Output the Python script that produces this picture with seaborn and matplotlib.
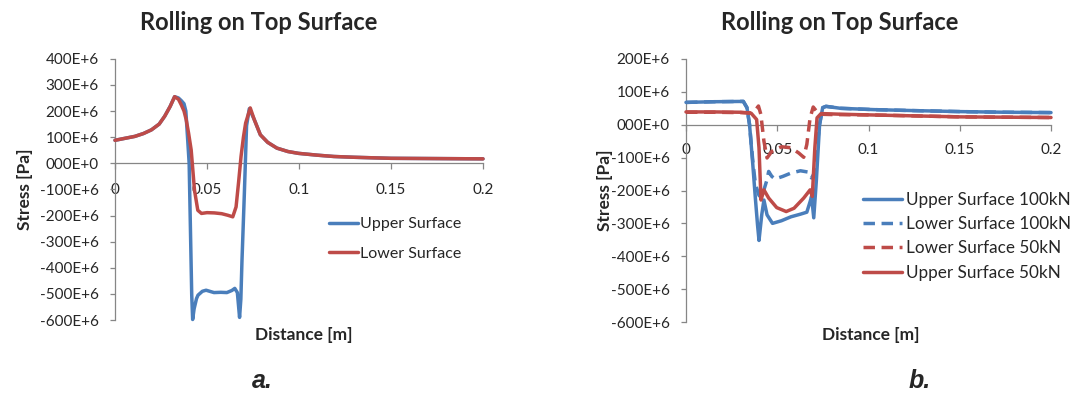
import matplotlib
matplotlib.use("Agg")
import matplotlib.pyplot as plt
from matplotlib.ticker import FuncFormatter, MultipleLocator
import seaborn as sns

# ---- Panel a: rolling on top surface, stress in units of 1E+6 Pa ----
a_upper_x = [0, 0.005, 0.0108, 0.0155, 0.0198, 0.024, 0.027, 0.030, 0.0324, 0.0345,
             0.036, 0.0375, 0.0385, 0.0396, 0.0403, 0.0408, 0.0417, 0.0422, 0.043, 0.0443,
             0.0451, 0.0475, 0.0495, 0.0538, 0.0575, 0.0608, 0.0635, 0.0651, 0.0665, 0.0677,
             0.0684, 0.069, 0.0703, 0.0715, 0.073, 0.0757, 0.079, 0.083, 0.088, 0.094,
             0.0997, 0.11, 0.119, 0.13, 0.15, 0.175, 0.2]
a_upper_y = [88, 95, 103, 114, 128, 150, 180, 218, 255, 250,
             240, 228, 200, 79, 0, -181, -505, -598, -557, -518,
             -505, -490, -486, -495, -494, -495, -487, -479, -495, -590,
             -520, -375, -116, 144, 209, 167, 109, 80, 58, 45,
             38, 31, 26, 23, 19, 18, 17]

a_lower_x = [0, 0.005, 0.0108, 0.0155, 0.0198, 0.024, 0.027, 0.030, 0.0324, 0.0345,
             0.036, 0.0375, 0.0387, 0.040, 0.0414, 0.0432, 0.045, 0.047, 0.050, 0.054,
             0.058, 0.0613, 0.064, 0.0658, 0.0672, 0.0685, 0.0698, 0.071, 0.0735, 0.0757,
             0.079, 0.083, 0.088, 0.094, 0.0997, 0.11, 0.119, 0.13, 0.15, 0.175, 0.2]
a_lower_y = [88, 95, 103, 114, 128, 150, 180, 218, 255, 245,
             224, 200, 167, 115, 51, -103, -180, -192, -189, -190,
             -193, -199, -205, -167, -70, 26, 100, 154, 212, 167,
             109, 80, 58, 45, 38, 31, 26, 23, 19, 18, 17]

# ---- Panel b: two load levels ----
b_upper100_x = [0, 0.015, 0.0314, 0.0334, 0.0348, 0.0366, 0.038, 0.0392, 0.040, 0.0415,
                0.0427, 0.0444, 0.0474, 0.0523, 0.0575, 0.0627, 0.0662, 0.068, 0.0688, 0.070,
                0.0714, 0.0732, 0.0749, 0.0767, 0.0847, 0.103, 0.125, 0.15, 0.175, 0.2]
b_upper100_y = [68, 70, 71, 52, 1, -121, -223, -305, -352, -274,
                -229, -274, -300, -292, -280, -272, -266, -234, -218, -283,
                -172, 1, 52, 56, 50, 46, 43, 40, 38, 37]

b_lower100_x = [0, 0.015, 0.0314, 0.0334, 0.0348, 0.0366, 0.038, 0.040, 0.0415, 0.0427,
                0.0444, 0.0453, 0.047, 0.0488, 0.0531, 0.0575, 0.0627, 0.067, 0.0688, 0.0700,
                0.0714, 0.0732, 0.0749, 0.0767, 0.0847, 0.103, 0.125, 0.15, 0.175, 0.2]
b_lower100_y = [68, 70, 71, 52, 1, -110, -180, -215, -222, -198,
                -167, -142, -157, -165, -157, -147, -140, -144, -162, -150,
                -90, 1, 52, 56, 50, 46, 43, 40, 38, 37]

b_lower50_x = [0, 0.015, 0.030, 0.0357, 0.038, 0.0397, 0.041, 0.0427, 0.0444, 0.047,
               0.0523, 0.0575, 0.0618, 0.0645, 0.0662, 0.068, 0.0697, 0.0714, 0.0735, 0.08,
               0.1, 0.125, 0.15, 0.175, 0.2]
b_lower50_y = [38, 38, 37, 36, 44, 57, 32, -50, -101, -81,
               -67, -70, -86, -99, -60, 21, 54, 42, 32, 31,
               30, 27, 24, 23, 22]

b_upper50_x = [0, 0.015, 0.030, 0.0357, 0.0387, 0.040, 0.0411, 0.0427, 0.0453, 0.0497,
               0.0549, 0.0592, 0.0645, 0.068, 0.0692, 0.0706, 0.0718, 0.074, 0.085, 0.1,
               0.125, 0.15, 0.175, 0.2]
b_upper50_y = [39, 39, 38, 35, 16, -70, -229, -198, -223, -252,
               -264, -254, -223, -198, -218, -70, 21, 34, 32, 30,
               27, 24, 23, 22]

title_text = "Rolling on Top Surface"
x_label = "Distance [m]"
y_label = "Stress [Pa]"

BLUE = "#4A7EBB"
RED = "#BE4B48"
AXIS_GREY = "#868686"
LW = 2.5
DASH = (0, (3.3, 1.9))

sns.set_style("white")
plt.rcParams["font.family"] = ["Lato", "DejaVu Sans"]

W, H = 1091, 394
fig = plt.figure(figsize=(W / 100, H / 100), dpi=100)


def px_axes(x0, x1, ytop, ybot):
    return fig.add_axes([x0 / W, 1 - ybot / H, (x1 - x0) / W, (ybot - ytop) / H])


axA = px_axes(115.0, 483.0, 58.8, 320.0)
axB = px_axes(686.0, 1051.0, 59.0, 322.0)


def y_fmt(v, _):
    v = int(round(v))
    return "000E+0" if v == 0 else f"{v}E+6"


def style_axes(ax, ylim, xpad):
    ax.set_xlim(0, 0.2)
    ax.set_ylim(*ylim)
    ax.xaxis.set_major_locator(MultipleLocator(0.05))
    ax.yaxis.set_major_locator(MultipleLocator(100))
    ax.xaxis.set_major_formatter(FuncFormatter(lambda v, _: f"{v:g}"))
    ax.yaxis.set_major_formatter(FuncFormatter(y_fmt))
    for side in ("top", "right"):
        ax.spines[side].set_visible(False)
    ax.spines["bottom"].set_position(("data", 0))
    for side in ("left", "bottom"):
        ax.spines[side].set_color(AXIS_GREY)
        ax.spines[side].set_linewidth(0.9)
        ax.spines[side].set_zorder(1)
    ax.tick_params(axis="y", direction="out", length=3.6, width=0.9, color=AXIS_GREY,
                   labelsize=11, pad=8.0, left=True)
    ax.tick_params(axis="x", direction="out", length=4.3, width=0.9, color=AXIS_GREY,
                   labelsize=11, pad=xpad, bottom=True)
    ax.grid(False)


def draw(ax, x, y, color, label, ls="-"):
    sns.lineplot(x=x, y=y, ax=ax, color=color, linewidth=LW, label=label, linestyle=ls,
                 sort=False, estimator=None, errorbar=None, clip_on=False, zorder=3,
                 solid_capstyle="round", solid_joinstyle="round",
                 dash_capstyle="butt", dash_joinstyle="round")


# Panel a
draw(axA, a_upper_x, a_upper_y, BLUE, "Upper Surface")
draw(axA, a_lower_x, a_lower_y, RED, "Lower Surface")
style_axes(axA, (-600, 400), 9.6)

# Panel b
draw(axB, b_upper100_x, b_upper100_y, BLUE, "Upper Surface 100kN")
draw(axB, b_lower100_x, b_lower100_y, BLUE, "Lower Surface 100kN", DASH)
draw(axB, b_lower50_x, b_lower50_y, RED, "Lower Surface 50kN", DASH)
draw(axB, b_upper50_x, b_upper50_y, RED, "Upper Surface 50kN")
style_axes(axB, (-600, 200), 8.6)

# Chart titles
for tx in (259, 840):
    fig.text(tx / W, 1 - 22 / H, title_text, ha="center", va="center",
             fontsize=17, fontweight="bold")

# Axis labels
for ax, ylx, xlx in ((axA, 25, 304), (axB, 605, 871)):
    pos = ax.get_position()
    x0, w = pos.x0 * W, pos.width * W
    ytop, h = (1 - pos.y1) * H, pos.height * H
    ax.set_xlabel(x_label, fontsize=12.5, fontweight="bold")
    ax.set_ylabel(y_label, fontsize=12.5, fontweight="bold")
    ax.xaxis.label.set_va("center")
    ax.yaxis.label.set_va("center")
    ax.xaxis.set_label_coords((xlx - x0) / w, 1 - (335 - ytop) / h)
    ax.yaxis.set_label_coords((ylx - x0) / w, 0.5)

# Legends
hA, lA = axA.get_legend_handles_labels()
axA.legend(hA, lA, loc="upper left", bbox_to_anchor=(329 / W, 1 - 217 / H),
           bbox_transform=fig.transFigure, frameon=False, borderpad=0, borderaxespad=0,
           handlelength=1.81, handletextpad=0.1, labelspacing=0.95, fontsize=11.5)
hB, lB = axB.get_legend_handles_labels()
axB.legend(hB, lB, loc="upper left", bbox_to_anchor=(863 / W, 1 - 191.5 / H),
           bbox_transform=fig.transFigure, frameon=False, borderpad=0, borderaxespad=0,
           handlelength=2.28, handletextpad=0.21, labelspacing=0.49, fontsize=12.3)

# Panel letters
for tx, letter in ((262, "a."), (920, "b.")):
    fig.text(tx / W, 1 - 387.5 / H, letter, ha="center", va="baseline", fontsize=18,
             fontweight="bold", fontstyle="italic", family=["Liberation Sans", "DejaVu Sans"])

fig.savefig("out.png", dpi=100)
